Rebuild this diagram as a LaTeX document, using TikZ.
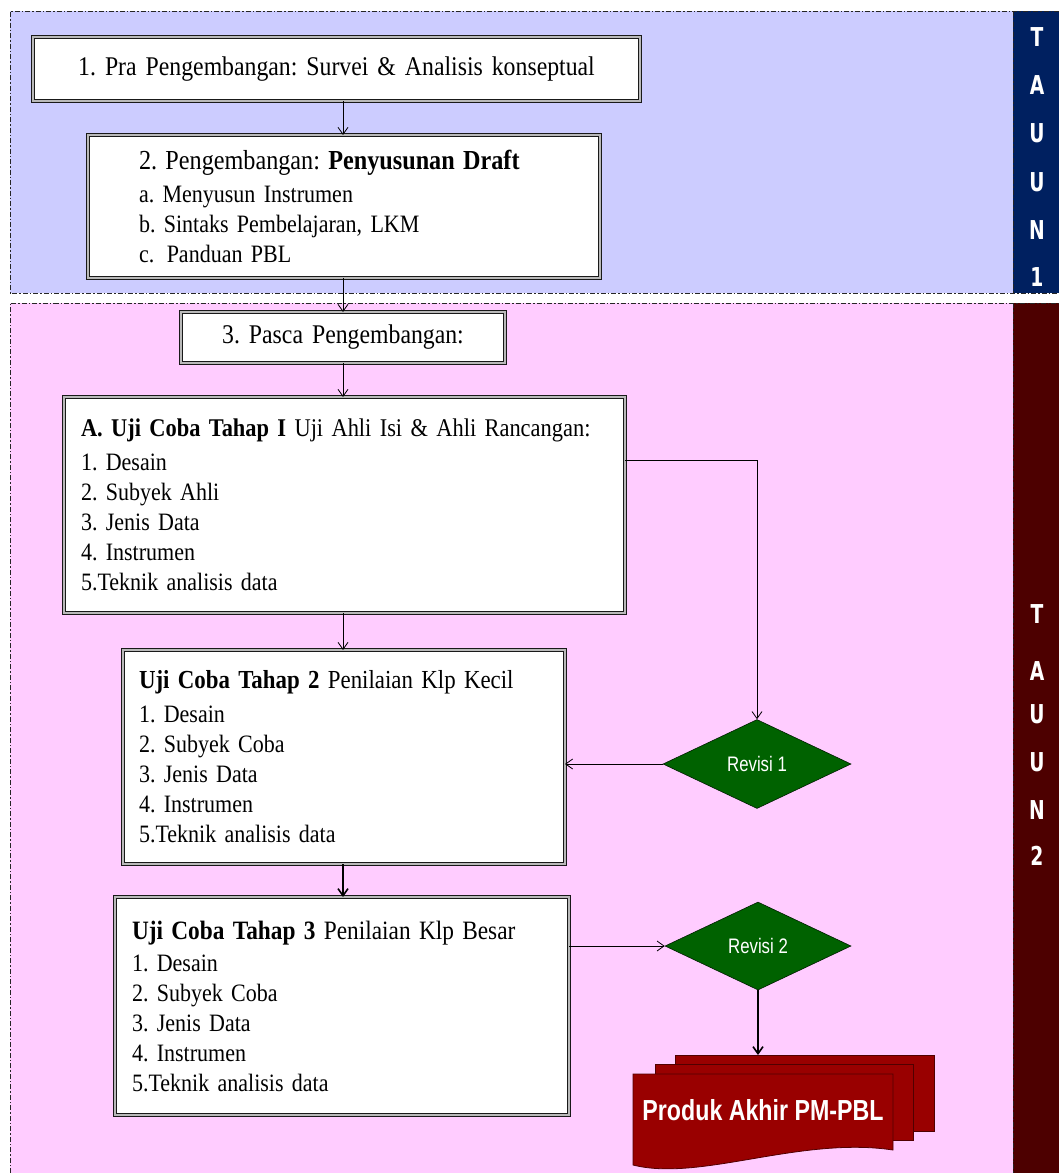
\documentclass[tikz,border=0pt]{standalone}
\usepackage{fontspec}
\setmainfont[FakeStretch=0.88,WordSpace=0.6]{Liberation Serif}
\newfontfamily\sidefont[FakeStretch=0.72]{DejaVu Sans}
\newfontfamily\docfont[FakeStretch=0.8]{Liberation Sans}
\usetikzlibrary{arrows.meta,shapes.geometric}
\definecolor{lav}{RGB}{204,204,255}
\definecolor{pinkbg}{RGB}{255,204,255}
\definecolor{navy}{RGB}{0,32,96}
\definecolor{maroon}{RGB}{77,0,0}
\definecolor{dgreen}{RGB}{0,98,0}
\definecolor{docred}{RGB}{153,0,0}
\definecolor{docedge}{RGB}{80,0,0}
\frenchspacing
\begin{document}
\begin{tikzpicture}[x=1pt,y=-1pt,
  box/.style={draw=black!90, line width=1.1pt, double=gray!55, double distance=2.2pt,
    fill=white, anchor=north west, inner ysep=0pt, inner xsep=0pt, outer sep=0pt},
  itemfont/.style={font=\fontsize{25}{30}\selectfont},
  arr/.style={-{Straight Barb[length=7pt,width=10pt]}, line width=0.8pt, black},
  thickarr/.style={-{Straight Barb[length=7pt,width=10pt]}, line width=1.6pt, black},
  region/.style={draw=black!85, line width=1pt, dash pattern=on 5pt off 2pt on 1.5pt off 2pt},
  revisi/.style={diamond, fill=dgreen, draw=black!70!dgreen, line width=0.6pt,
    minimum width=188pt, minimum height=89pt, inner sep=0pt, text=white,
    font=\docfont\fontsize{21}{24}\selectfont},
  sideletter/.style={text=white, font=\sidefont\bfseries\fontsize{26}{26}\selectfont, inner sep=0pt},
  page/.style={fill=docred, draw=docedge, line width=0.8pt}
]
\useasboundingbox (0,0) rectangle (1059,1173);
\fill[white] (0,0) rectangle (1059,1173);
% regions
\fill[lav] (10,11) rectangle (1013,293);
\fill[navy] (1013,11) rectangle (1059,293);
\draw[region] (1059,11) -- (10,11) -- (10,293) -- (1059,293);
\draw[region] (1013,11) -- (1013,293);
\fill[pinkbg] (10,303) rectangle (1013,1173);
\fill[maroon] (1013,303) rectangle (1059,1173);
\draw[region] (10,1173) -- (10,303) -- (1059,303);
\draw[region] (1013,303) -- (1013,1173);
% side letters
\foreach \t/\yy [count=\i] in {T/37,A/85,U/133,U/182,N/230,1/277}
  \node[sideletter] (ta\i) at (1037,\yy) {\t};
\foreach \t/\yy [count=\i] in {T/614,A/671,U/714,U/762,N/810,2/856}
  \node[sideletter] (tb\i) at (1037,\yy) {\t};
% boxes
\node[box, minimum width=607pt, minimum height=64pt, text width=607pt, align=center,
  font=\fontsize{27}{30}\selectfont] (b1) at (33,37) {1. Pra Pengembangan: Survei \& Analisis konseptual};
\node[box, minimum width=512pt, minimum height=143pt, text width=512pt,
  align=left, itemfont] (b2) at (88,135)
  {\hspace*{51pt}{\fontsize{27.5}{30}\selectfont 2. Pengembangan: \textbf{Penyusunan Draft}}\\[3pt]
   \hspace*{51pt}a. Menyusun Instrumen\\
   \hspace*{51pt}b. Sintaks Pembelajaran, LKM\\
   \hspace*{51pt}c.\enspace Panduan PBL};
\node[box, minimum width=324pt, minimum height=51pt, text width=324pt, align=center,
  font=\fontsize{27}{30}\selectfont] (b3) at (181,312) {3. Pasca Pengembangan:};
\node[box, minimum width=561pt, minimum height=216pt, text width=561pt,
  align=left, itemfont] (bA) at (64,397)
  {\hspace*{17pt}{\fontsize{25.5}{30}\selectfont\textbf{A. Uji Coba Tahap I} Uji Ahli Isi \& Ahli Rancangan:}\\[4pt]
   \hspace*{17pt}1. Desain\\
   \hspace*{17pt}2. Subyek Ahli\\
   \hspace*{17pt}3. Jenis Data\\
   \hspace*{17pt}4. Instrumen\\
   \hspace*{17pt}5.Teknik analisis data};
\node[box, minimum width=442pt, minimum height=214pt, text width=442pt,
  align=left, itemfont] (bB) at (123,650)
  {\hspace*{16pt}{\fontsize{26}{30}\selectfont\textbf{Uji Coba Tahap 2} Penilaian Klp Kecil}\\[4pt]
   \hspace*{16pt}1. Desain\\
   \hspace*{16pt}2. Subyek Coba\\
   \hspace*{16pt}3. Jenis Data\\
   \hspace*{16pt}4. Instrumen\\
   \hspace*{16pt}5.Teknik analisis data};
\node[box, minimum width=454pt, minimum height=218pt, text width=454pt,
  align=left, itemfont] (bC) at (115,897)
  {\hspace*{17pt}{\fontsize{26.5}{30}\selectfont\textbf{Uji Coba Tahap 3} Penilaian Klp Besar}\\[2pt]
   \hspace*{17pt}1. Desain\\
   \hspace*{17pt}2. Subyek Coba\\
   \hspace*{17pt}3. Jenis Data\\
   \hspace*{17pt}4. Instrumen\\
   \hspace*{17pt}5.Teknik analisis data};
% diamonds
\node[revisi] (r1) at (757,764) {Revisi 1};
\node[revisi, minimum width=186pt, minimum height=88pt] (r2) at (758,946) {Revisi 2};
% document stack
\node[page, anchor=north west, minimum width=259pt, minimum height=76pt, inner sep=0pt] (docback) at (675,1055) {};
\node[page, anchor=north west, minimum width=258pt, minimum height=76pt, inner sep=0pt] (docmid) at (655,1064) {};
\coordinate (dfl) at (633,1074);
\filldraw[page] (dfl) -- (893,1074) -- (893,1150)
  .. controls (800,1136) and (700,1182) .. (633,1165) -- cycle;
\node[text=white, font=\docfont\bfseries\fontsize{29}{30}\selectfont, inner sep=0pt] (prod) at (763,1110) {Produk Akhir PM-PBL};
% connectors
\coordinate (cx) at (343,0);
\draw[arr] (b1.south -| cx) -- (b2.north -| cx);
\draw[arr] (b2.south -| cx) -- (b3.north -| cx);
\draw[arr] (b3.south -| cx) -- (bA.north -| cx);
\draw[arr] (bA.south -| cx) -- (bB.north -| cx);
\draw[thickarr] (bB.south -| cx) -- (bC.north -| cx);
\coordinate (aOut) at (625,460);
\draw[arr] (aOut) -| (r1.north);
\draw[arr] (r1.west) -- (r1.west -| bB.east);
\draw[arr] (bC.east |- r2.west) -- (r2.west);
\draw[thickarr] (r2.south) -- (r2.south |- docback.north);
\end{tikzpicture}
\end{document}
